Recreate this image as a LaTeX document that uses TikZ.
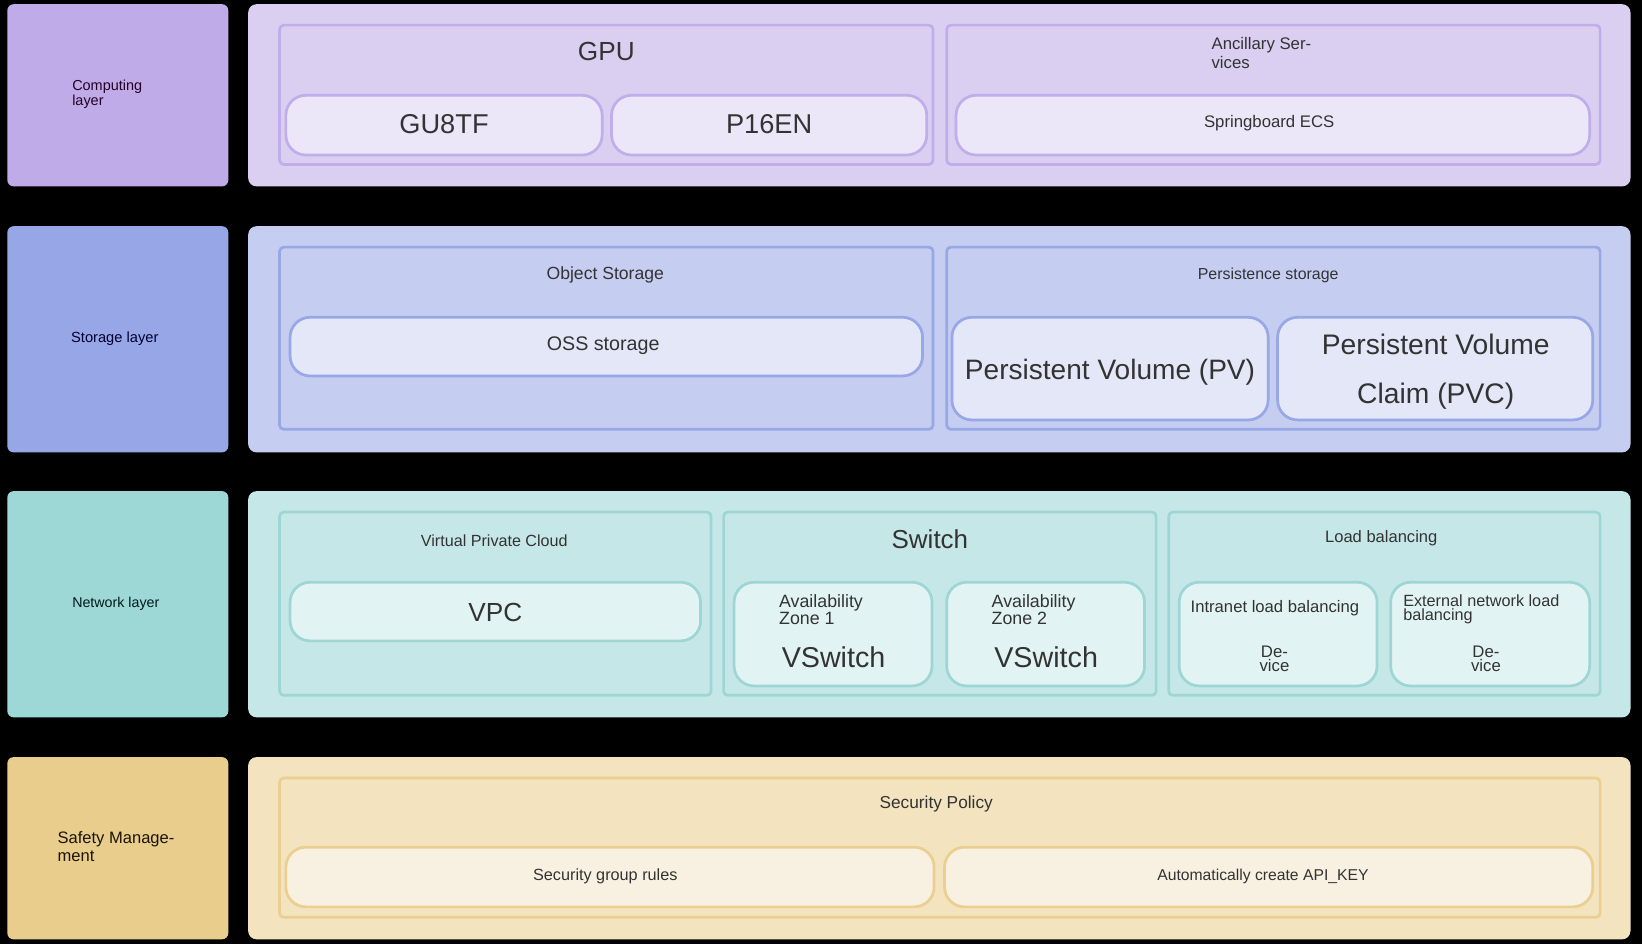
\documentclass[tikz,border=0pt]{standalone}
\usepackage{fontspec}
\setmainfont{Liberation Sans}
\newcommand\myfz[2]{\fontsize{#1}{#2}\selectfont}
\definecolor{cL}{HTML}{BEABE8}\definecolor{cP}{HTML}{DBCFF1}\definecolor{cB}{HTML}{BFAEE9}\definecolor{cF}{HTML}{ECE7F8}
\definecolor{sL}{HTML}{97A6E6}\definecolor{sP}{HTML}{C5CDF1}\definecolor{sB}{HTML}{98A7E6}\definecolor{sF}{HTML}{E3E7F8}
\definecolor{nL}{HTML}{9DD8D6}\definecolor{nP}{HTML}{C6E7E7}\definecolor{nB}{HTML}{9DD6D5}\definecolor{nF}{HTML}{E2F3F3}
\definecolor{yL}{HTML}{E8CD8D}\definecolor{yP}{HTML}{F3E3BF}\definecolor{yB}{HTML}{EACF90}\definecolor{yF}{HTML}{F8F1E1}
\definecolor{tx}{HTML}{333333}
\begin{document}
\begin{tikzpicture}[x=1pt,y=-1pt,
  every node/.style={inner sep=0pt,outer sep=0pt,text=tx},
  lbl/.style={rounded corners=6pt,minimum width=211pt},
  panel/.style={rounded corners=8pt,minimum width=1320pt},
  grp/.style={draw,line width=2.6pt,rounded corners=4pt},
  pill/.style={draw,line width=2.6pt,rounded corners=19pt},
  lt/.style={align=left,anchor=west,yshift=-2pt},
  ct/.style={align=center,yshift=-2pt},
  big/.style={align=center}]
\useasboundingbox[fill=black] (0,0) rectangle (1568,901);
% left labels and panels
\node[lbl,fill=cL,minimum height=174pt] (Lc) at (112.5,91) {};
\node[lbl,fill=sL,minimum height=216pt] (Ls) at (112.5,324) {};
\node[lbl,fill=nL,minimum height=216pt] (Ln) at (112.5,577) {};
\node[lbl,fill=yL,minimum height=174pt] (Ly) at (112.5,810) {};
\node[panel,fill=cP,minimum height=174pt] (Pc) at (897,91) {};
\node[panel,fill=sP,minimum height=216pt] (Ps) at (897,324) {};
\node[panel,fill=nP,minimum height=216pt] (Pn) at (897,577) {};
\node[panel,fill=yP,minimum height=174pt] (Py) at (897,810) {};
% computing
\node[grp,draw=cB,fill=cP,minimum width=624pt,minimum height=133pt] (gpu) at (579,90.5) {};
\node[grp,draw=cB,fill=cP,minimum width=624pt,minimum height=133pt] (anc) at (1216,90.5) {};
\node[pill,draw=cB,fill=cF,minimum width=302pt,minimum height=57pt] (gu8tf) at (424,119.5) {};
\node[pill,draw=cB,fill=cF,minimum width=301pt,minimum height=57pt] (p16en) at (734.5,119.5) {};
\node[pill,draw=cB,fill=cF,minimum width=605pt,minimum height=57pt] (ecs) at (1215.5,119.5) {};
% storage
\node[grp,draw=sB,fill=sP,minimum width=624pt,minimum height=174pt] (obj) at (579,323) {};
\node[grp,draw=sB,fill=sP,minimum width=624pt,minimum height=174pt] (pers) at (1216,323) {};
\node[pill,draw=sB,fill=sF,minimum width=604pt,minimum height=56pt] (oss) at (579,331) {};
\node[pill,draw=sB,fill=sF,minimum width=302pt,minimum height=98pt] (pv) at (1060,352) {};
\node[pill,draw=sB,fill=sF,minimum width=301pt,minimum height=98pt] (pvc) at (1370.5,352) {};
% network
\node[grp,draw=nB,fill=nP,minimum width=412pt,minimum height=175pt] (vpcg) at (473,576.5) {};
\node[grp,draw=nB,fill=nP,minimum width=413pt,minimum height=175pt] (sw) at (897.5,576.5) {};
\node[grp,draw=nB,fill=nP,minimum width=412pt,minimum height=175pt] (lb) at (1322,576.5) {};
\node[pill,draw=nB,fill=nF,minimum width=392pt,minimum height=56pt] (vpc) at (473,584) {};
\node[pill,draw=nB,fill=nF,minimum width=189pt,minimum height=99pt] (az1) at (795.5,605.5) {};
\node[pill,draw=nB,fill=nF,minimum width=189pt,minimum height=99pt] (az2) at (998.5,605.5) {};
\node[pill,draw=nB,fill=nF,minimum width=189pt,minimum height=99pt] (intra) at (1220.5,605.5) {};
\node[pill,draw=nB,fill=nF,minimum width=190pt,minimum height=99pt] (ext) at (1423,605.5) {};
% safety
\node[grp,draw=yB,fill=yP,minimum width=1261pt,minimum height=133pt] (sec) at (897.5,809.5) {};
\node[pill,draw=yB,fill=yF,minimum width=619pt,minimum height=57pt] (sgr) at (582.5,837.5) {};
\node[pill,draw=yB,fill=yF,minimum width=619pt,minimum height=57pt] (api) at (1211.5,837.5) {};
% texts
\node[lt,font=\myfz{13.8}{14},text=black!70!violet] (tLc) at (69,88) {Computing\\layer};
\node[lt,font=\myfz{14}{15},text=black!80!blue] (tLs) at (68,321) {Storage layer};
\node[lt,font=\myfz{13.6}{15},text=black!80!teal] (tLn) at (69,575) {Network layer};
\node[lt,font=\myfz{15.8}{17},text=black!85!brown] (tLy) at (55,806.5) {Safety Manage-\\ment};
\node[big,font=\myfz{25}{26}] (tgpu) at (579,49.5) {GPU};
\node[big,font=\myfz{26}{27}] (tgu) at (424,119) {GU8TF};
\node[big,font=\myfz{26}{27}] (tp16) at (734.5,119) {P16EN};
\node[lt,font=\myfz{16}{18}] (tanc) at (1157,49) {Ancillary Ser-\\vices};
\node[ct,font=\myfz{16}{17}] (tecs) at (1212,116) {Springboard ECS};
\node[ct,font=\myfz{16.8}{17}] (tobj) at (578,261) {Object Storage};
\node[ct,font=\myfz{18.8}{19}] (toss) at (576,328) {OSS storage};
\node[ct,font=\myfz{15.2}{16}] (tpers) at (1211,261) {Persistence storage};
\node[ct,font=\myfz{26.8}{28},yshift=-1pt] (tpv) at (1060,352) {Persistent Volume (PV)};
\node[ct,font=\myfz{27}{46},yshift=-1pt] (tpvc) at (1371,352) {Persistent Volume\\Claim (PVC)};
\node[ct,font=\myfz{15.4}{16}] (tvpcg) at (472,514) {Virtual Private Cloud};
\node[big,font=\myfz{25}{26}] (tvpc) at (473,585) {VPC};
\node[big,font=\myfz{24.8}{26}] (tsw) at (888,515) {Switch};
\node[lt,font=\myfz{17}{16}] (taz1) at (744,580) {Availability\\Zone 1};
\node[lt,font=\myfz{17}{16}] (taz2) at (947,580) {Availability\\Zone 2};
\node[big,font=\myfz{27.4}{28}] (tvs1) at (796,628) {VSwitch};
\node[big,font=\myfz{27.4}{28}] (tvs2) at (999,628) {VSwitch};
\node[ct,font=\myfz{15.8}{16}] (tlb) at (1319,512) {Load balancing};
\node[lt,font=\myfz{15.9}{16}] (tintra) at (1137,579) {Intranet load balancing};
\node[lt,font=\myfz{15.5}{14}] (text) at (1340,580) {External network load\\balancing};
\node[ct,font=\myfz{16}{14}] (tdev1) at (1217,627) {De-\\vice};
\node[ct,font=\myfz{16}{14}] (tdev2) at (1419,627) {De-\\vice};
\node[ct,font=\myfz{16.5}{17}] (tsec) at (894,766) {Security Policy};
\node[ct,font=\myfz{15.5}{16}] (tsgr) at (578,835) {Security group rules};
\node[ct,font=\myfz{15}{16}] (tapi) at (1206,835) {Automatically create API\_KEY};
\end{tikzpicture}
\end{document}
